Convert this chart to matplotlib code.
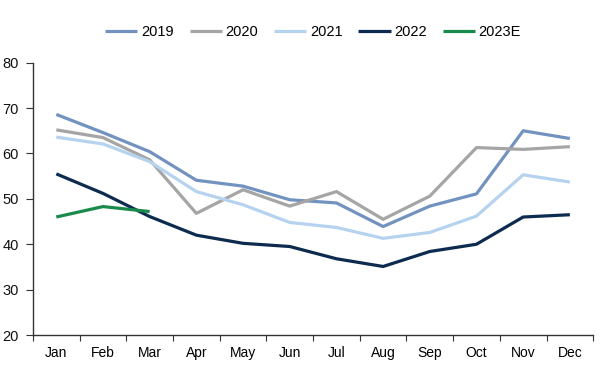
import numpy as np
import matplotlib
matplotlib.use("Agg")
import matplotlib.pyplot as plt

plt.rcParams['font.family'] = ['Liberation Sans', 'DejaVu Sans']

months = ['Jan', 'Feb', 'Mar', 'Apr', 'May', 'Jun',
          'Jul', 'Aug', 'Sep', 'Oct', 'Nov', 'Dec']

y2019 = [68.6, 64.6, 60.4, 54.1, 52.8, 49.8, 49.1, 43.9, 48.4, 51.1, 65.0, 63.3]
y2020 = [65.2, 63.5, 58.6, 46.8, 52.0, 48.4, 51.6, 45.5, 50.6, 61.3, 60.9, 61.5]
y2021 = [63.6, 62.1, 58.2, 51.6, 48.7, 44.8, 43.7, 41.3, 42.6, 46.2, 55.3, 53.7]
y2022 = [55.5, 51.2, 46.1, 42.0, 40.2, 39.5, 36.8, 35.1, 38.4, 40.0, 46.0, 46.5]
y2023e = [46.0, 48.3, 47.2]

series = [
    ('2019', y2019, '#7292BF'),
    ('2020', y2020, '#A5A5A5'),
    ('2021', y2021, '#B5D3EE'),
    ('2022', y2022, '#0C2B4E'),
    ('2023E', y2023e, '#198A4B'),
]

fig = plt.figure(figsize=(6.05, 3.71), dpi=100)
ax = fig.add_axes([0.0545, 0.097, 0.926, 0.734])

for name, vals, col in series:
    ax.plot(np.arange(len(vals)), vals, color=col, lw=2.3, label=name,
            solid_capstyle='butt')

ax.set_ylim(20, 80)
ax.set_yticks(range(20, 81, 10))
ax.set_xlim(-0.5, 11.5)

# ticks at category boundaries, labels at centres
ax.set_xticks(np.arange(-0.5, 12, 1))
ax.set_xticklabels([])
ax.set_xticks(np.arange(12), minor=True)
ax.set_xticklabels(months, minor=True)
ax.tick_params(axis='x', which='minor', length=0, pad=8)
ax.tick_params(axis='x', which='major', length=4, direction='out', color='#333333')
ax.tick_params(axis='y', length=5, direction='out', color='#333333', pad=5)
ax.tick_params(labelsize=10.5, labelcolor='#111111')

for s in ['top', 'right']:
    ax.spines[s].set_visible(False)
for s in ['left', 'bottom']:
    ax.spines[s].set_color('#333333')
    ax.spines[s].set_linewidth(1.0)

ax.legend(loc='center', bbox_to_anchor=(0.5, 1.113), ncol=5, frameon=False,
          fontsize=10.5, handlelength=2.2, handletextpad=0.25, columnspacing=1.1)

fig.savefig('out.png', dpi=100)
